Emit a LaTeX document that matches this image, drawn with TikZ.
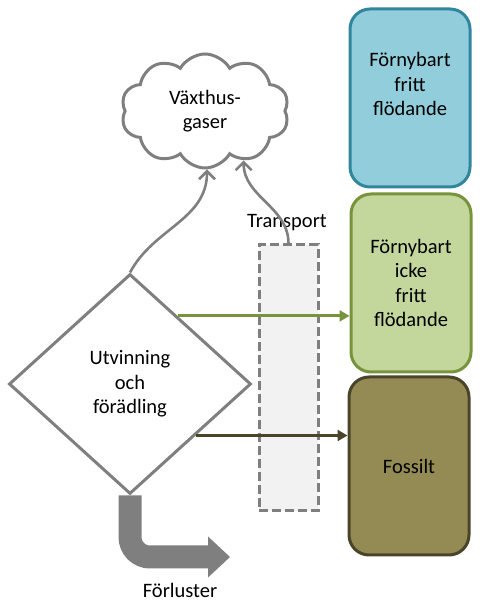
\documentclass[tikz,border=0pt]{standalone}
\usepackage{fontspec}
\setmainfont{Carlito}
\usetikzlibrary{arrows.meta,shapes.geometric,shapes.symbols}
\definecolor{linegray}{HTML}{7F7F7F}
\definecolor{transfill}{HTML}{F2F2F2}
\definecolor{freefill}{HTML}{92CDDC}
\definecolor{freeborder}{HTML}{31859C}
\definecolor{greenfill}{HTML}{C3D69B}
\definecolor{greenborder}{HTML}{77933C}
\definecolor{fossfill}{HTML}{948A54}
\definecolor{fossborder}{HTML}{4A452A}
\tikzset{
  every node/.append style={font=\fontsize{20.5}{24.5}\selectfont, align=center},
  source/.style={draw, rounded corners=20pt, line width=3pt, minimum width=120pt, minimum height=178pt, inner sep=0pt},
  gasarrow/.style={draw=linegray, line width=2.6pt, -{Straight Barb[length=8pt,width=16pt]}},
  flow/.style={line width=3pt, -{Triangle[length=10pt,width=11pt]}},
  loss/.style={draw=linegray, line width=23pt, rounded corners=20pt},
}
\begin{document}
\begin{tikzpicture}[x=1pt,y=1pt]
      \useasboundingbox (0,0) rectangle (479,604);

      \node[source, draw=freeborder, fill=freefill] (free) at (410,506) {};
      \node (freetext) at (410,520) {Förnybart\\fritt\\flödande};
      \node[source, draw=greenborder, fill=greenfill] (renew) at (411,321) {Förnybart\\icke\\fritt\\flödande};
      \node[source, draw=fossborder, fill=fossfill] (fossil) at (409,138) {Fossilt};

      \node[draw=linegray, fill=transfill, line width=3pt, dash pattern=on 9pt off 4pt, minimum width=59pt, minimum height=266pt, inner sep=0pt] (trans) at (288.5,226) {};
      \node (translabel) at (287,381) {Transport};

      \node[cloud, draw=linegray, fill=white, line width=3pt, cloud puffs=10, cloud puff arc=120, aspect=1.5, minimum width=168pt, minimum height=114pt, inner sep=0pt] (gas) at (205,493) {Växthus-\\gaser};

      \node[diamond, draw=linegray, fill=white, line width=3pt, minimum width=242pt, minimum height=220pt, inner sep=0pt] (proc) at (130,220) {Utvinning\\och\\förädling};

      \draw[gasarrow] (proc.north) to[out=62,in=-90] (gas.-88);
      \draw[gasarrow] (trans.north) to[out=90,in=-90] (gas.-52);

      \draw[flow, greenborder] (proc.55) -- (proc.55 -| renew.west);
      \draw[flow, fossborder] (proc.-38) -- (proc.-38 -| fossil.west);

      \coordinate (lossend) at (208,47);
      \draw[loss] (proc.south) |- (lossend);
      \fill[linegray] (lossend) ++(0,20.5) -- ++(22,-20.5) -- ++(-22,-20.5) -- cycle;
      \node (losslabel) at (180,14) {Förluster};
    \end{tikzpicture}
\end{document}
